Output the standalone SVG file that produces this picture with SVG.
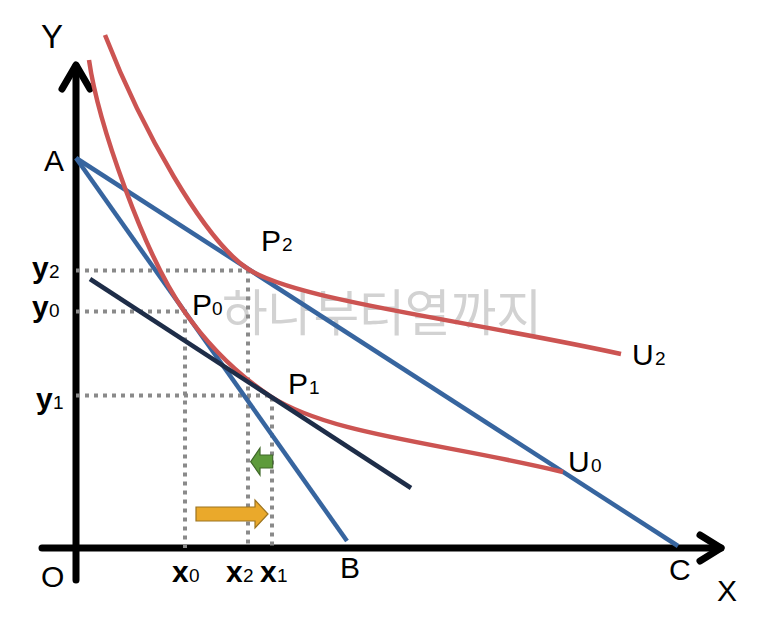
<svg xmlns="http://www.w3.org/2000/svg" width="773" height="624" viewBox="0 0 773 624">
<style>
text{font-family:"Liberation Sans",Arial,sans-serif;fill:#000}
.big{font-size:30px}
.sub{font-size:19px;font-weight:normal}
.var{font-size:30px;font-weight:bold}
.axis{stroke:#000;stroke-width:7;fill:none;stroke-linecap:round;stroke-linejoin:round}
.dot{stroke:#8a8a8a;stroke-width:4;stroke-dasharray:4 5;fill:none}
.blue{stroke:#37659f;stroke-width:4.5;fill:none}
.red{stroke:#cc5452;stroke-width:4.5;fill:none}
.navy{stroke:#1e2d48;stroke-width:4.5;fill:none}
.wm{font-family:"Noto Sans CJK KR","Noto Sans",sans-serif;font-size:50px;fill:#d2d2d2}
</style>
<rect width="773" height="624" fill="#fff"/>
<text class="wm" x="222" y="331" textLength="320" lengthAdjust="spacingAndGlyphs">하나부터열까지</text>
<g id="axes">
<line class="axis" x1="76" y1="580" x2="76" y2="66"/>
<polyline class="axis" points="62,89 76,65 90,89"/>
<line class="axis" x1="42" y1="548" x2="721" y2="548"/>
<polyline class="axis" points="700,535 721,548 700,561"/>
</g>
<g id="connectors">
<path class="dot" d="M76,270.5 H248 V548"/>
<path class="dot" d="M76,311.5 H185 V548"/>
<path class="dot" d="M76,395.5 H272 V548"/>
</g>
<g id="budget-AB"><line class="blue" x1="76" y1="158" x2="347" y2="541"/></g>
<g id="budget-AC"><line class="blue" x1="76" y1="158" x2="678" y2="546"/></g>
<g id="U0"><path class="red" d="M89,60 C98,123 144,254 184,311 C212,351 240,376 270,396 C330,435 443,443 563,472"/></g>
<g id="U2"><path class="red" d="M105,35 C142,130 204,240 248,269 C298,301 471,321 621,354"/></g>
<g id="compensated"><line class="navy" x1="90" y1="279" x2="411" y2="488"/></g>
<g id="arrow-green"><polygon points="250.7,461.7 260,448 260,455 272.7,455 272.7,468 260,468 260,475" fill="#5e9b3b" stroke="#40692a" stroke-width="1.2"/></g>
<g id="arrow-orange"><polygon points="196,507 255,507 255,500 268,514 255,528 255,521 196,521" fill="#eaa92b" stroke="#9c7420" stroke-width="1.2"/></g>
<g id="labels">
<text class="big" x="41" y="48" style="font-size:33px">Y</text>
<text class="big" x="44" y="171">A</text>
<text class="big" x="41" y="587">O</text>
<text class="big" x="340" y="578">B</text>
<text class="big" x="669" y="580">C</text>
<text class="big" x="717" y="601">X</text>
<text class="big" x="261" y="251">P<tspan class="sub" x="282">2</tspan></text>
<text class="big" x="192" y="315">P<tspan class="sub" x="212">0</tspan></text>
<text class="big" x="288" y="394">P<tspan class="sub" x="309">1</tspan></text>
<text class="big" x="632" y="365">U<tspan class="sub" x="655">2</tspan></text>
<text class="big" x="568" y="472">U<tspan class="sub" x="591">0</tspan></text>
<text class="var" x="32" y="278">y<tspan class="sub" x="49">2</tspan></text>
<text class="var" x="32" y="317">y<tspan class="sub" x="49">0</tspan></text>
<text class="var" x="36" y="409">y<tspan class="sub" x="53">1</tspan></text>
<text class="var" x="172" y="582">x<tspan class="sub" x="189">0</tspan></text>
<text class="var" x="226" y="582">x<tspan class="sub" x="243">2</tspan></text>
<text class="var" x="260" y="582">x<tspan class="sub" x="277">1</tspan></text>
</g>
</svg>
